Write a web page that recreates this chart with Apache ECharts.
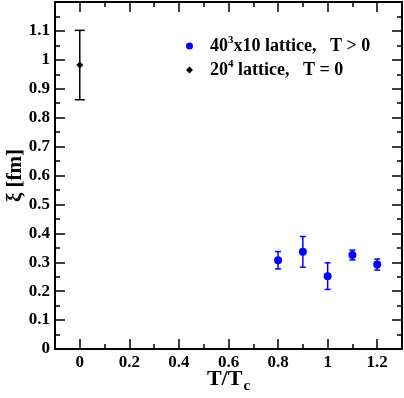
<!DOCTYPE html>
<html>
<head>
<meta charset="utf-8">
<script src="https://cdn.jsdelivr.net/npm/echarts@6/dist/echarts.min.js"></script>
<style>
  html, body { margin: 0; padding: 0; background: #fff; }
  #main { width: 404px; height: 398px; }
</style>
</head>
<body>
<div id="main"></div>
<script>
var chart = echarts.init(document.getElementById('main'));

// data
var hotName = '40^3x10 lattice,   T > 0';
var coldName = '20^4 lattice,   T = 0';
var hotX = [0.8, 0.9, 1.0, 1.1, 1.2];
var hotY = [0.307, 0.336, 0.252, 0.325, 0.292];
var hotErr = [0.030, 0.053, 0.046, 0.017, 0.019];
var coldX = [0];
var coldY = [0.982];
var coldErr = [0.120];
var xMajor = [0, 0.2, 0.4, 0.6, 0.8, 1.0, 1.2];

var serif = 'Liberation Serif';

function pts(xs, ys) {
  var out = [];
  for (var i = 0; i < xs.length; i++) out.push([xs[i], ys[i]]);
  return out;
}
function errs(xs, ys, es) {
  var out = [];
  for (var i = 0; i < xs.length; i++) out.push([xs[i], ys[i], es[i]]);
  return out;
}
function errBar(color, cap) {
  return function (params, api) {
    var x = api.value(0), y = api.value(1), e = api.value(2);
    var top = api.coord([x, y + e]);
    var bot = api.coord([x, y - e]);
    var st = { stroke: color, lineWidth: 1.5 };
    return {
      type: 'group',
      children: [
        { type: 'line', shape: { x1: top[0], y1: top[1], x2: bot[0], y2: bot[1] }, style: st },
        { type: 'line', shape: { x1: top[0] - cap, y1: top[1], x2: top[0] + cap, y2: top[1] }, style: st },
        { type: 'line', shape: { x1: bot[0] - cap, y1: bot[1], x2: bot[0] + cap, y2: bot[1] }, style: st }
      ]
    };
  };
}

var lineStyle = { color: '#000', width: 2 };
function xAx(pos, major, withLabel) {
  var a = {
    type: 'value', position: pos, min: -0.1, max: 1.3, interval: 0.1,
    axisLine: { show: true, onZero: false, lineStyle: lineStyle },
    axisTick: { show: true, inside: true, length: major ? 10 : 5, lineStyle: { color: '#000', width: 1.5 } },
    axisLabel: { show: false },
    splitLine: { show: false }
  };
  if (major) a.axisTick.customValues = xMajor;
  if (withLabel) {
    a.axisLabel = {
      show: true, margin: 5, color: '#000', fontFamily: serif, fontWeight: 'bold', fontSize: 17,
      formatter: function (v) {
        var n = Math.round(v * 10);
        if (n % 2 !== 0 || n < 0 || n > 12) return '';
        return String(n / 10);
      }
    };
    a.name = '{m|T/T}{s|c}';
    a.nameLocation = 'middle';
    a.nameGap = 15;
    a.nameMoveOverlap = false;
    a.nameTextStyle = {
      rich: {
        m: { fontFamily: serif, fontWeight: 'bold', fontSize: 22, color: '#000', lineHeight: 30 },
        s: { fontFamily: serif, fontWeight: 'bold', fontSize: 15, color: '#000', verticalAlign: 'bottom', lineHeight: 4, padding: [0, 0, 0, 1] }
      }
    };
  }
  return a;
}
function yAx(pos, withLabel) {
  var a = {
    type: 'value', position: pos, min: 0, max: 1.2, interval: 0.1,
    axisLine: { show: true, onZero: false, lineStyle: lineStyle },
    axisTick: { show: true, inside: true, length: 10, lineStyle: { color: '#000', width: 1.5 } },
    minorTick: { show: true, splitNumber: 2, length: 5, lineStyle: { color: '#000', width: 1.5 } },
    axisLabel: { show: false },
    splitLine: { show: false }
  };
  if (withLabel) {
    a.axisLabel = {
      show: true, margin: 5, color: '#000', fontFamily: serif, fontWeight: 'bold', fontSize: 17,
      formatter: function (v) {
        var n = Math.round(v * 10);
        if (n > 11) return '';
        return String(n / 10);
      }
    };
    a.name = 'ξ [fm]';
    a.nameLocation = 'middle';
    a.nameGap = 29;
    a.nameMoveOverlap = false;
    a.nameTextStyle = { fontFamily: serif, fontWeight: 'bold', fontSize: 21, color: '#000' };
  }
  return a;
}

var tStyle = { fontFamily: serif, fontWeight: 'bold', fontSize: 18, color: '#000', lineHeight: 22 };
var option = {
  backgroundColor: '#fff',
  animation: false,
  grid: { left: 55, right: 2, top: 2, bottom: 49, containLabel: false, outerBoundsMode: 'none' },
  legend: {
    orient: 'vertical',
    left: 181, top: 30,
    itemWidth: 7, itemHeight: 7, itemGap: 4,
    data: [{ name: hotName, icon: 'circle' }, { name: coldName, icon: 'diamond' }],
    formatter: function (name) {
      if (name === hotName) return '{f|40}{p|3}{t|x10 lattice,   T > 0}';
      return '{f|20}{p|4}{t| lattice,   T = 0}';
    },
    textStyle: {
      rich: {
        f: Object.assign({}, tStyle, { padding: [0, 0, 0, 12] }),
        t: tStyle,
        p: { fontFamily: serif, fontWeight: 'bold', fontSize: 11, color: '#000', verticalAlign: 'top', lineHeight: 10 }
      }
    }
  },
  xAxis: [xAx('bottom', false, true), xAx('bottom', true, false), xAx('top', false, false), xAx('top', true, false)],
  yAxis: [yAx('left', true), yAx('right', false)],
  series: [
    {
      name: hotName + ' err', type: 'custom', xAxisIndex: 0, yAxisIndex: 0,
      renderItem: errBar('#0000ff', 3), data: errs(hotX, hotY, hotErr), z: 2
    },
    {
      name: coldName + ' err', type: 'custom', xAxisIndex: 0, yAxisIndex: 0,
      renderItem: errBar('#000000', 5), data: errs(coldX, coldY, coldErr), z: 2
    },
    {
      name: hotName, type: 'scatter', xAxisIndex: 0, yAxisIndex: 0,
      symbol: 'circle', symbolSize: 8, itemStyle: { color: '#0000ff', opacity: 1 },
      data: pts(hotX, hotY), z: 3
    },
    {
      name: coldName, type: 'scatter', xAxisIndex: 0, yAxisIndex: 0,
      symbol: 'diamond', symbolSize: 7, itemStyle: { color: '#000000', opacity: 1 },
      data: pts(coldX, coldY), z: 3
    }
  ]
};
chart.setOption(option);
</script>
</body>
</html>
